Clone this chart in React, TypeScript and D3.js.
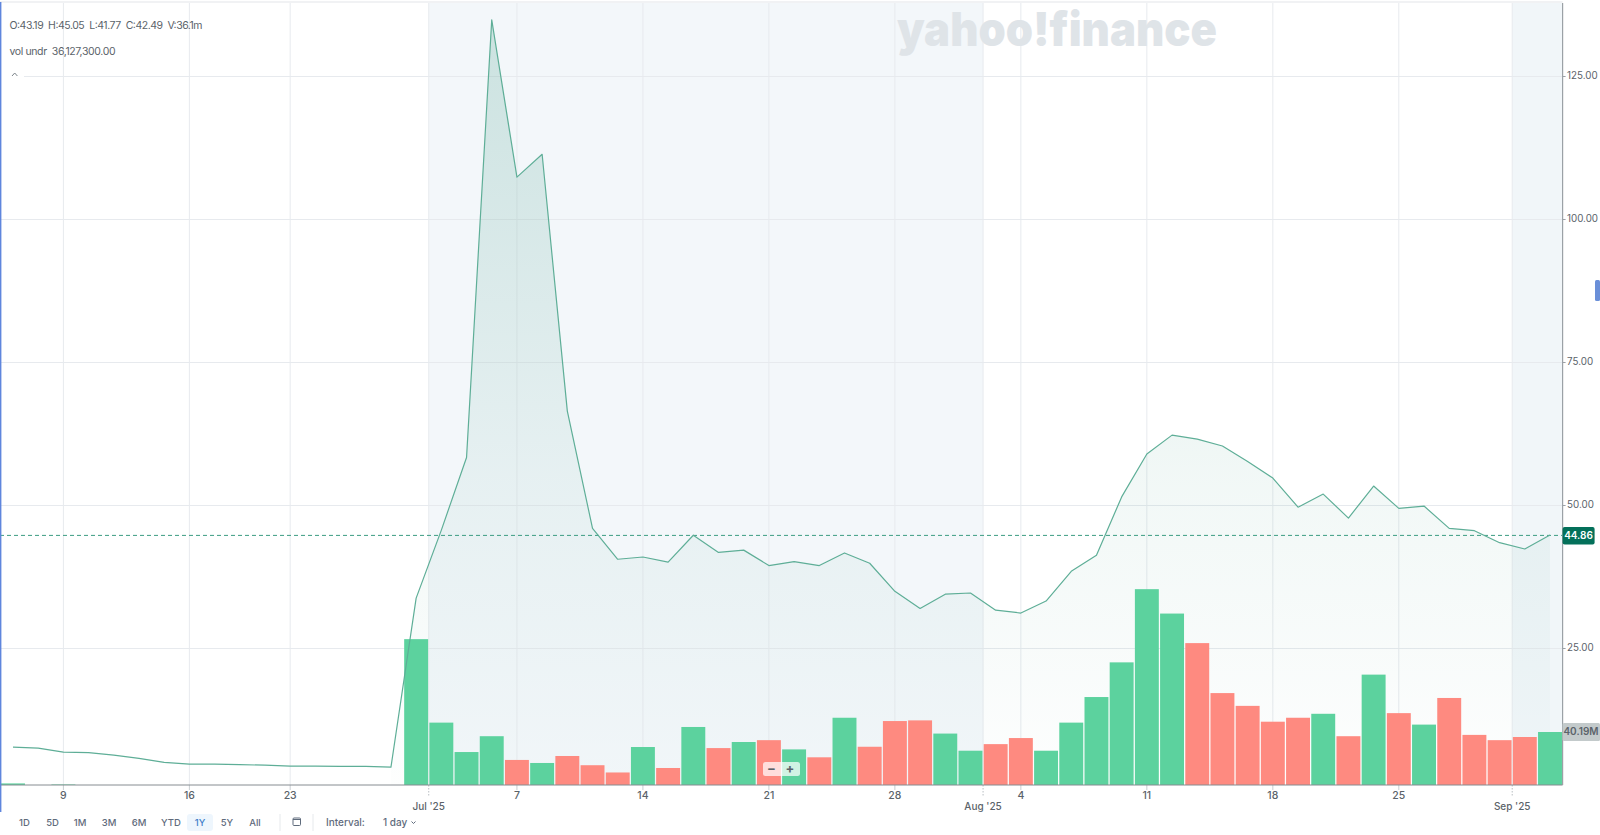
import React, { useEffect } from "react";
import * as d3 from "d3";

const dates = ["Jun 5","Jun 6","Jun 9","Jun 10","Jun 11","Jun 12","Jun 13","Jun 16","Jun 17","Jun 18","Jun 20","Jun 23","Jun 24","Jun 25","Jun 26","Jun 27","Jun 30",
  "Jul 1","Jul 2","Jul 3","Jul 7","Jul 8","Jul 9","Jul 10","Jul 11","Jul 14","Jul 15","Jul 16","Jul 17","Jul 18","Jul 21","Jul 22","Jul 23","Jul 24","Jul 25","Jul 28","Jul 29","Jul 30","Jul 31",
  "Aug 1","Aug 4","Aug 5","Aug 6","Aug 7","Aug 8","Aug 11","Aug 12","Aug 13","Aug 14","Aug 15","Aug 18","Aug 19","Aug 20","Aug 21","Aug 22","Aug 25","Aug 26","Aug 27","Aug 28","Aug 29",
  "Sep 2","Sep 3"];
const closes = [7.75,7.57,6.87,6.8,6.35,5.8,5.1,4.8,4.8,4.7,4.6,4.42,4.42,4.4,4.4,4.25,33.8,
  45.7,58.4,134.9,107.4,111.4,66.5,46,40.6,41,40.1,44.8,41.8,42.2,39.5,40.2,39.5,41.7,39.9,35,32,34.5,34.7,
  31.7,31.2,33.3,38.5,41.3,51.5,59,62.3,61.6,60.4,57.7,54.8,49.7,52,47.8,53.4,49.5,49.9,46,45.6,43.5,
  42.4,44.86];
const volumes = [1.2,0,0.4,0,0,0,0,0,0,0,0,0,0,0,0,0,110.6,
  47.3,25,37,19,16.7,22,15,9.5,28.8,12.9,44,28,32.6,34,27,21,51,29,48.5,49,39,26,
  31,35.6,26,47.3,66.7,93,148.5,130,107.6,69.7,60,48,51,54,37,83.7,54.5,45.8,66,38,34,
  36.4,40.19];
const volumeUp = [1,1,1,1,1,1,1,1,1,1,1,1,1,1,1,1,1,
  1,1,1,0,1,0,0,0,1,0,1,0,1,0,1,0,1,0,0,0,1,1,
  0,0,1,1,1,1,1,1,0,0,0,0,0,1,0,1,0,1,0,0,0,
  0,1];
const priceTicks = [25,50,75,100,125];
const dayTicks = [["Jun 9","9"],["Jun 16","16"],["Jun 23","23"],["Jul 7","7"],["Jul 14","14"],["Jul 21","21"],["Jul 28","28"],["Aug 4","4"],["Aug 11","11"],["Aug 18","18"],["Aug 25","25"]];
const monthTicks = [["Jun 30","Jul 1","Jul '25"],["Jul 31","Aug 1","Aug '25"],["Aug 29","Sep 2","Sep '25"]];
const ranges = ["1D","5D","1M","3M","6M","YTD","1Y","5Y","All"];
const rangeX = [24.5,52.5,80,109,139,171,200,227,255];

const FONT = "Inter, 'Noto Sans', sans-serif";
const GRID = "#e7eaee";
const TEXT = "#5b636a";
const W = 1600, H = 835;
const AXIS_X = 1562.6, AXIS_Y = 785;

const xBand = d3.scaleBand<string>().domain(dates).range([0.4, AXIS_X]).paddingInner(0.05).paddingOuter(0.025);
const cx = (d: string) => (xBand(d) as number) + xBand.bandwidth() / 2;
const y = d3.scaleLinear().domain([25, 125]).range([648.5, 76.5]);
const yVol = d3.scaleLinear().domain([0, 40.19]).range([AXIS_Y, 732]);

const rows = dates.map((d, i) => ({ d, c: closes[i], v: volumes[i], up: volumeUp[i] }));
const linePath = d3.line<any>().x((r) => cx(r.d)).y((r) => y(r.c))(rows) as string;
const areaPath = d3.area<any>().x((r) => cx(r.d)).y0(AXIS_Y).y1((r) => y(r.c))(rows.slice(15)) as string;
const monthX = (m: string[]) => (cx(m[0]) + cx(m[1])) / 2;

export default function App() {
  useEffect(() => { document.body.style.margin = "0"; }, []);
  const julX = monthX(monthTicks[0]), augX = monthX(monthTicks[1]), sepX = monthX(monthTicks[2]);
  return (
    <svg width={W} height={H} style={{ display: "block", fontFamily: FONT }} xmlns="http://www.w3.org/2000/svg">
      <defs>
        <linearGradient id="areaFill" gradientUnits="userSpaceOnUse" x1="0" x2="0" y1={20} y2={AXIS_Y}>
          <stop offset="0" stopColor="#0b7d62" stopOpacity={0.17} />
          <stop offset="0.6" stopColor="#0b7d62" stopOpacity={0.055} />
          <stop offset="1" stopColor="#0b7d62" stopOpacity={0.008} />
        </linearGradient>
      </defs>
      <rect width={W} height={H} fill="#ffffff" />
      <rect x={0} y={1} width={AXIS_X} height={2} fill="#f1f2f4" />
      <rect x={julX} y={3} width={augX - julX} height={AXIS_Y - 3} fill="#f3f7fa" />
      <rect x={sepX} y={3} width={AXIS_X - sepX} height={AXIS_Y - 3} fill="#f1f6f9" />

      {priceTicks.map((t) => (
        <g key={t}>
          <line x1={t === 125 ? 24 : 0} x2={AXIS_X} y1={y(t)} y2={y(t)} stroke={GRID} />
          <line x1={AXIS_X} x2={AXIS_X + 3} y1={y(t)} y2={y(t)} stroke="#9ba1a6" />
          <text x={1567} y={y(t)} dominantBaseline="middle" fontSize={9.8} fill={TEXT}>{t.toFixed(2)}</text>
        </g>
      ))}
      {dayTicks.map(([d, l]) => (
        <g key={d}>
          <line x1={cx(d)} x2={cx(d)} y1={3} y2={AXIS_Y} stroke={GRID} />
          <line x1={cx(d)} x2={cx(d)} y1={AXIS_Y} y2={AXIS_Y + 5} stroke="#c9ced2" />
          <text x={cx(d)} y={796} textAnchor="middle" dominantBaseline="middle" fontSize={10.5} fontWeight={500} fill={TEXT}>{l}</text>
        </g>
      ))}
      {monthTicks.map((m) => (
        <g key={m[2]}>
          <line x1={monthX(m)} x2={monthX(m)} y1={3} y2={AXIS_Y} stroke={GRID} />
          <line x1={monthX(m)} x2={monthX(m)} y1={AXIS_Y} y2={AXIS_Y + 12} stroke="#b9bec3" strokeDasharray="1.5 1.5" />
          <text x={monthX(m)} y={807.5} textAnchor="middle" dominantBaseline="middle" fontSize={10} fontWeight={500} fill={TEXT}>{m[2]}</text>
        </g>
      ))}

      <text x={897} y={46} fontSize={47} fontWeight={900} fill="#dfe4e8" textLength={320} lengthAdjust="spacingAndGlyphs" fontFamily="Inter, sans-serif">yahoo!finance</text>

      <path d={areaPath} fill="url(#areaFill)" />
      <line x1={0} x2={AXIS_X} y1={y(44.86) + 0.5} y2={y(44.86) + 0.5} stroke="#3c9c82" strokeDasharray="4 3" />

      {rows.filter((r) => r.v > 0).map((r) => (
        <rect key={r.d} x={xBand(r.d)} y={yVol(r.v)} width={xBand.bandwidth()} height={AXIS_Y - yVol(r.v)}
          fill={r.up ? "#5cd29e" : "#fe8a80"} />
      ))}

      <path d={linePath} fill="none" stroke="#5eae97" strokeWidth={1.2} strokeLinejoin="round" />

      <line x1={0} x2={AXIS_X} y1={AXIS_Y} y2={AXIS_Y} stroke="#868c91" strokeWidth={1} />
      <line x1={AXIS_X} x2={AXIS_X} y1={3} y2={AXIS_Y} stroke="#9ba1a6" strokeWidth={1.2} />
      <rect x={0} y={2} width={1.4} height={810} fill="#5f86dd" />
      <rect x={1595} y={280} width={5} height={21} rx={1.5} fill="#6a8fd8" />

      <rect x={AXIS_X} y={527} width={32} height={17.5} rx={2} fill="#04705a" />
      <text x={1578.5} y={536} textAnchor="middle" dominantBaseline="middle" fontSize={10} fontWeight={600} fill="#ffffff">44.86</text>
      <rect x={AXIS_X} y={723} width={37.4} height={18} rx={1.5} fill="#c3cacb" />
      <text x={1581} y={732.5} textAnchor="middle" dominantBaseline="middle" fontSize={10} fontWeight={600} fill={TEXT}>40.19M</text>

      <text x={9.5} y={26} dominantBaseline="middle" fontSize={10.5} fill={TEXT} textLength={193} lengthAdjust="spacing" xmlSpace="preserve">O:43.19  H:45.05  L:41.77  C:42.49  V:36.1m</text>
      <text x={9.5} y={52} dominantBaseline="middle" fontSize={10.5} fill={TEXT} textLength={106} lengthAdjust="spacing" xmlSpace="preserve">vol undr  36,127,300.00</text>
      <path d="M12 76 L14.7 73 L17.4 76" fill="none" stroke="#7d858b" strokeWidth={1} />

      <rect x={763} y={762} width={37} height={14} rx={2.5} fill="#ffffff" fillOpacity={0.72} />
      <text x={771.5} y={769} textAnchor="middle" dominantBaseline="middle" fontSize={13} fontWeight={700} fill={TEXT}>−</text>
      <text x={790} y={769} textAnchor="middle" dominantBaseline="middle" fontSize={13} fontWeight={700} fill={TEXT}>+</text>

      <rect x={187} y={814} width={26} height={17} rx={3} fill="#eef6fd" />
      {ranges.map((r, i) => (
        <text key={r} x={rangeX[i]} y={823} textAnchor="middle" dominantBaseline="middle" fontSize={9.5} fontWeight={500} fill={r === "1Y" ? "#3f7fc9" : "#5f6b7c"}>{r}</text>
      ))}
      <line x1={280} x2={280} y1={814} y2={831} stroke="#e6e9ec" />
      <rect x={293} y={818} width={7.5} height={7.5} rx={1} fill="none" stroke="#5f6b7c" strokeWidth={1} />
      <line x1={293} x2={300.5} y1={819.5} y2={819.5} stroke="#5f6b7c" />
      <line x1={313} x2={313} y1={814} y2={831} stroke="#e6e9ec" />
      <text x={326} y={823} dominantBaseline="middle" fontSize={10} fontWeight={500} fill="#5f6b7c">Interval:</text>
      <text x={383} y={823} dominantBaseline="middle" fontSize={10} fontWeight={500} fill="#5f6b7c">1 day</text>
      <path d="M411.5 821.5 L413.5 823.5 L415.5 821.5" fill="none" stroke="#5f6b7c" strokeWidth={1} />
    </svg>
  );
}
